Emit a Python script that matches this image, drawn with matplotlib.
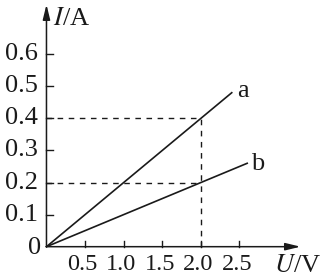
import matplotlib

matplotlib.use("Agg")
import matplotlib.pyplot as plt

# values
x_ticks = [0.5, 1.0, 1.5, 2.0, 2.5]
x_tick_labels = ["0.5", "1.0", "1.5", "2.0", "2.5"]
y_ticks = [0.1, 0.2, 0.3, 0.4, 0.5, 0.6]
y_tick_labels = ["0.1", "0.2", "0.3", "0.4", "0.5", "0.6"]
line_a_u = [0.0, 2.4]
line_a_i = [0.0, 0.48]
line_b_u = [0.0, 2.6]
line_b_i = [0.0, 0.26]
guide_u = [2.0, 2.0]
guide_i = [0.4, 0.2]

plt.rcParams["font.family"] = ["Liberation Serif", "DejaVu Serif"]
plt.rcParams["mathtext.fontset"] = "stix"

fig = plt.figure(figsize=(3.24, 2.78), dpi=100)
ax = fig.add_axes([0, 0, 1, 1])
ax.set_xlim(-0.602, 3.595)
ax.set_ylim(-0.0976, 0.769)
ax.axis("off")

ink = "#1a1a1a"

# axes with arrow heads
arrow = dict(arrowstyle="-|>,head_length=0.9,head_width=0.22", color=ink, lw=1.1,
             shrinkA=0, shrinkB=0)
ax.annotate("", xy=(3.29, 0), xytext=(0, 0), arrowprops=arrow)
ax.annotate("", xy=(0, 0.755), xytext=(0, 0), arrowprops=arrow)

# ticks
for u, lab in zip(x_ticks, x_tick_labels):
    ax.plot([u, u], [0, 0.018], color=ink, lw=1.0)
    ax.text(u - 0.03, -0.057, lab, ha="center", va="center", fontsize=17.5, color=ink)
for i, lab in zip(y_ticks, y_tick_labels):
    ax.plot([0, 0.09], [i, i], color=ink, lw=1.0)
    ax.text(-0.11, i, lab, ha="right", va="center", fontsize=19, color=ink)
ax.text(-0.07, -0.005, "0", ha="right", va="center", fontsize=19, color=ink)

# axis labels
ax.text(0.085, 0.71, "$I$/A", ha="left", va="center", fontsize=19, color=ink)
ax.text(3.25, -0.06, "$U$/V", ha="center", va="center", fontsize=19, color=ink)

# dashed guides
for u, i in zip(guide_u, guide_i):
    ax.plot([0, u], [i, i], color=ink, lw=1.0, ls=(0, (4, 4)))
ax.plot([guide_u[0], guide_u[0]], [0, max(guide_i)], color=ink, lw=1.0, ls=(0, (4, 4)))

# the two I-U lines
ax.plot(line_a_u, line_a_i, color=ink, lw=1.2)
ax.plot(line_b_u, line_b_i, color=ink, lw=1.2)
ax.text(line_a_u[-1] + 0.07, line_a_i[-1] + 0.004, "a", ha="left", va="center", fontsize=19, color=ink)
ax.text(line_b_u[-1] + 0.05, line_b_i[-1] - 0.002, "b", ha="left", va="center", fontsize=19, color=ink)

fig.savefig("out.png", dpi=100)
